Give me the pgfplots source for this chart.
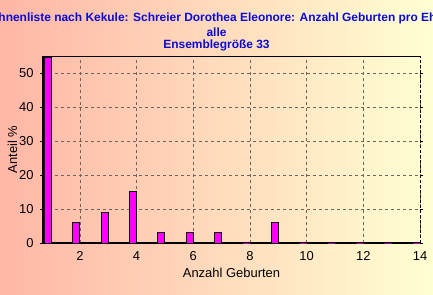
\documentclass[border=0pt]{standalone}
\usepackage{pgfplots}
\pgfplotsset{compat=1.18}
\usepackage{fontspec}
\setmainfont{Liberation Sans}
\definecolor{bgL}{RGB}{255,182,166}
\definecolor{bgR}{RGB}{255,255,210}
\definecolor{titleblue}{RGB}{10,10,215}
\definecolor{gridc}{RGB}{110,100,90}
\definecolor{barc}{RGB}{255,0,255}
\begin{document}
\begin{tikzpicture}[x=1bp,y=1bp]
\clip (0,0) rectangle (433,294);
\useasboundingbox (0,0) rectangle (433,294);
\shade[left color=bgL, right color=bgR] (0,0) rectangle (433,294);
\node[font=\fontsize{12}{14}\selectfont\bfseries, text=titleblue, align=center, inner sep=0pt] at (216.5,276) {Ahnenliste nach Kekule: Schreier Dorothea Eleonore: Anzahl Geburten pro Ehe};
\node[font=\fontsize{12}{14}\selectfont\bfseries, text=titleblue, inner sep=0pt] at (216.5,262) {alle};
\node[font=\fontsize{12}{14}\selectfont\bfseries, text=titleblue, inner sep=0pt] at (216.5,249) {Ensemblegröße 33};
\begin{axis}[
  at={(43bp,51bp)}, anchor=south west,
  width=377bp, height=187bp, scale only axis,
  xmin=0.7, xmax=14, ymin=0, ymax=55,
  xtick={2,4,...,14}, ytick={0,10,...,50},
  tick label style={font=\fontsize{13}{15}\selectfont},
  xticklabel style={yshift=-2bp},
  yticklabel style={xshift=-3bp},
  /pgf/number format/assume math mode=true,
  label style={font=\fontsize{13}{15}\selectfont},
  xlabel={Anzahl Geburten}, ylabel={Anteil \%},
  xlabel style={yshift=-1bp},
  ylabel style={yshift=-5bp},
  tick align=outside, major tick length=3bp,
  xtick style={draw=none},
  ytick style={black, line width=0.8pt},
  grid=major,
  major grid style={gridc, dash pattern=on 3bp off 3bp, line width=0.6pt},
  axis line style={draw=none},
  ybar, bar width=7bp, bar shift=-3.5bp,
  clip=false,
]
\draw[black, line width=0.8pt] (rel axis cs:0,1) -- (rel axis cs:1,1);
\draw[black, line width=0.8pt, dash pattern=on 3bp off 2bp] (rel axis cs:1,0) -- (rel axis cs:1,1);
\draw[black, line width=1.4pt] (rel axis cs:0,0) -- (rel axis cs:0,1);
\draw[black, line width=1.2pt] (rel axis cs:0,0) -- (rel axis cs:1,0);
\addplot[fill=barc, draw=black, line width=1pt] coordinates {
 (1,54.55) (2,6.06) (3,9.09) (4,15.15) (5,3.03) (6,3.03) (7,3.03) (9,6.06)
};
\addplot[fill=barc, draw=barc, line width=1pt] coordinates {
 (8,0) (10,0) (11,0) (12,0) (13,0) (14,0)
};
\end{axis}
\end{tikzpicture}
\end{document}
